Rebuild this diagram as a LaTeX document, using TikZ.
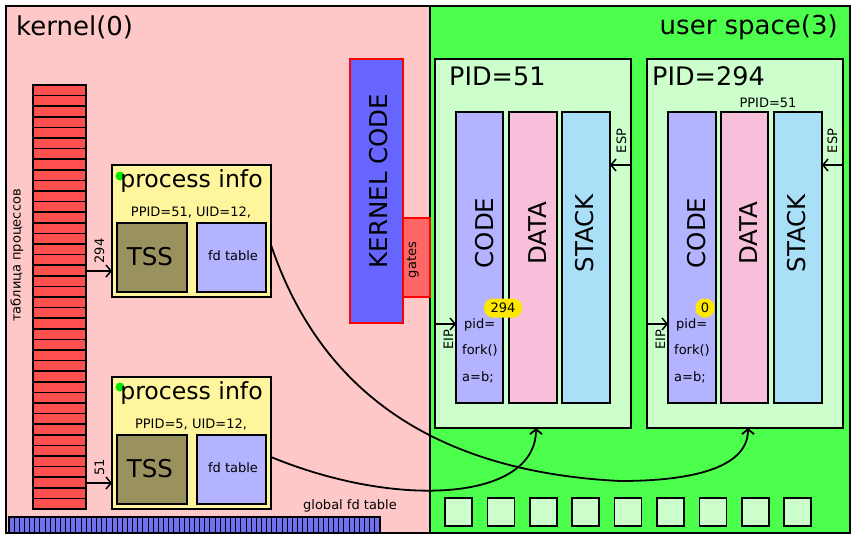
\documentclass[tikz,border=0pt]{standalone}
\usepackage{fontspec}
\setmainfont{DejaVu Sans}
\usetikzlibrary{arrows.meta}
\definecolor{kpink}{HTML}{FFC8C8}
\definecolor{ugreen}{HTML}{4CFF4C}
\definecolor{lgreen}{HTML}{CCFFCC}
\definecolor{tred}{HTML}{FF5050}
\definecolor{kblue}{HTML}{6666FF}
\definecolor{gred}{HTML}{FF6666}
\definecolor{tssc}{HTML}{99925E}
\definecolor{lblue}{HTML}{B3B3FF}
\definecolor{dpink}{HTML}{F7BFD9}
\definecolor{sblue}{HTML}{AADFF8}
\definecolor{pyellow}{HTML}{FFF59C}
\definecolor{gfdc}{HTML}{7070F0}
\definecolor{bubblec}{HTML}{FFE800}
\definecolor{dotc}{HTML}{00E600}
\newcommand{\myfs}[1]{\fontsize{#1}{#1}\selectfont}
\begin{document}
\begin{tikzpicture}[x=1pt,y=-1pt,
  box/.style={draw=black, line width=1.8pt, anchor=north west, inner sep=0pt, outer sep=0pt},
  redbox/.style={draw=red, line width=1.6pt, anchor=north west, inner sep=0pt, outer sep=0pt},
  big/.style={font=\myfs{24.5}},
  small/.style={font=\myfs{13}},
  vtext/.style={rotate=90, anchor=base, inner sep=0pt},
  arr/.style={-{Straight Barb[length=5pt,width=12pt]}, line width=1.5pt},
  curve/.style={-{Straight Barb[length=5pt,width=12pt]}, line width=1.8pt},
  bub/.style={fill=bubblec, rounded corners=9pt, minimum height=19pt, inner sep=0pt, font=\myfs{13}}
]
\useasboundingbox (0,0) rectangle (851,535);

% regions
\node[box, fill=kpink, line width=1.5pt, minimum width=424pt, minimum height=527pt] (kernel) at (6,6) {};
\node[box, fill=ugreen, line width=1.5pt, minimum width=420pt, minimum height=527pt] (user) at (430,6) {};
\node[anchor=base west, inner sep=0pt, font=\myfs{26}] (kt) at (16,36) {kernel(0)};
\node[anchor=base east, inner sep=0pt, font=\myfs{26}] (ut) at (838,35) {user space(3)};

% process table
\foreach \i in {0,...,39}
  \draw[fill=tred, line width=1.6pt] (33,{85+\i*10.6}) rectangle (86,{85+(\i+1)*10.6});
\node[box, line width=1.6pt, minimum width=53pt, minimum height=424pt] (ptable) at (33,85) {};
\node[vtext, small] (ptl) at (20.5,255.5) {таблица процессов};

% process info 1
\node[box, fill=pyellow, minimum width=159pt, minimum height=132pt] (pi1) at (112,165) {};
\fill[dotc] (120,176) circle (4.5);
\node[anchor=base, inner sep=0pt, font=\myfs{23.6}] (pt1) at (191.5,187) {process info};
\node[anchor=base, inner sep=0pt, small] (pp1) at (191,216) {PPID=51, UID=12,};
\node[box, fill=tssc, minimum width=70pt, minimum height=69pt] (tss1) at (117,223) {};
\node[big, inner sep=0pt] at (150,257) {TSS};
\node[box, fill=lblue, minimum width=69pt, minimum height=69pt] (fd1) at (197,223) {};
\node[small, inner sep=0pt] at (233,256) {fd table};
\coordinate (r294) at (86,271);
\draw[arr] (r294) -- (r294 -| pi1.west);
\node[vtext, small] (l294) at (104,251) {294};

% process info 2
\node[box, fill=pyellow, minimum width=159pt, minimum height=132pt] (pi2) at (112,377) {};
\fill[dotc] (120,387) circle (4.5);
\node[anchor=base, inner sep=0pt, font=\myfs{23.6}] (pt2) at (191.5,399) {process info};
\node[anchor=base, inner sep=0pt, small] (pp2) at (191,428.5) {PPID=5, UID=12,};
\node[box, fill=tssc, minimum width=70pt, minimum height=69pt] (tss2) at (117,435) {};
\node[big, inner sep=0pt] at (150,469) {TSS};
\node[box, fill=lblue, minimum width=69pt, minimum height=69pt] (fd2) at (197,435) {};
\node[small, inner sep=0pt] at (233,468) {fd table};
\coordinate (r51) at (86,483);
\draw[arr] (r51) -- (r51 -| pi2.west);
\node[vtext, small] (l51) at (104,467) {51};

% global fd table
\node[box, fill=gfdc, line width=1.4pt, minimum width=371pt, minimum height=16pt] (gfd) at (9,517) {};
\foreach \i in {1,...,71}
  \draw[line width=1pt] ({9+\i*5.1528},517) -- ++(0,16);
\node[anchor=base, inner sep=0pt, small] (gfdl) at (350,509) {global fd table};

% kernel code and gates
\node[redbox, fill=kblue, minimum width=53pt, minimum height=264pt] (kc) at (350,59) {};
\node[vtext, big] at (387,181) {KERNEL CODE};
\node[redbox, fill=gred, minimum width=27pt, minimum height=79pt] (gates) at (403,218) {};
\node[vtext, small] at (416,260) {gates};

% PID=51
\node[box, fill=lgreen, minimum width=196pt, minimum height=369pt] (p51) at (435,59) {};
\node[anchor=base west, inner sep=0pt, font=\myfs{25.5}] at (449,85) {PID=51};
\node[box, fill=lblue, minimum width=47pt, minimum height=291pt] (c51) at (456,112) {};
\node[box, fill=dpink, minimum width=48pt, minimum height=291pt] (d51) at (509,112) {};
\node[box, fill=sblue, minimum width=48pt, minimum height=291pt] (s51) at (562,112) {};
\node[vtext, big] at (493,233) {CODE};
\node[vtext, big] at (546,233) {DATA};
\node[vtext, big] at (593,233) {STACK};
\coordinate (esp51) at (631,165);
\draw[arr] (esp51) -- (esp51 -| s51.east);
\node[vtext, small] at (626,141) {ESP};
\coordinate (eip51) at (435,324);
\draw[arr] (eip51) -- (eip51 -| c51.west);
\node[vtext, small] at (453,340) {EIP};
\node[anchor=base west, inner sep=0pt, small] at (464,328) {pid=};
\node[anchor=base west, inner sep=0pt, small] at (462,354) {fork()};
\node[anchor=base west, inner sep=0pt, small] at (462,381) {a=b;};
\node[bub, minimum width=38pt] (b51) at (503,308) {294};

% PID=294
\node[box, fill=lgreen, minimum width=196pt, minimum height=369pt] (p294) at (647,59) {};
\node[anchor=base west, inner sep=0pt, font=\myfs{25.5}] at (652,85) {PID=294};
\node[anchor=base, inner sep=0pt, small] at (768,107) {PPID=51};
\node[box, fill=lblue, minimum width=48pt, minimum height=291pt] (c294) at (668,112) {};
\node[box, fill=dpink, minimum width=47pt, minimum height=291pt] (d294) at (721,112) {};
\node[box, fill=sblue, minimum width=48pt, minimum height=291pt] (s294) at (774,112) {};
\node[vtext, big] at (705,233) {CODE};
\node[vtext, big] at (757,233) {DATA};
\node[vtext, big] at (805,233) {STACK};
\coordinate (esp294) at (843,165);
\draw[arr] (esp294) -- (esp294 -| s294.east);
\node[vtext, small] at (837,141) {ESP};
\coordinate (eip294) at (647,324);
\draw[arr] (eip294) -- (eip294 -| c294.west);
\node[vtext, small] at (665,340) {EIP};
\node[anchor=base west, inner sep=0pt, small] at (676,328) {pid=};
\node[anchor=base west, inner sep=0pt, small] at (674,354) {fork()};
\node[anchor=base west, inner sep=0pt, small] at (674,381) {a=b;};
\node[bub, minimum width=19pt] (b294) at (705,308) {0};

% bottom squares
\foreach \i in {0,...,8}
  \node[box, fill=lgreen, line width=1.6pt, minimum width=27pt, minimum height=28pt] (sq\i) at ({445+\i*42.4},498) {};

% curves
\coordinate (c1) at (271,245);
\coordinate (c2) at (271,457);
\draw[curve] (c1) .. controls (310,360) and (400,470) .. (620,481)
   .. controls (700,481) and (748,465) .. ([xshift=3pt]p294.south);
\draw[curve] (c2) .. controls (400,510) and (536,500) .. ([xshift=3pt]p51.south);
\end{tikzpicture}
\end{document}
